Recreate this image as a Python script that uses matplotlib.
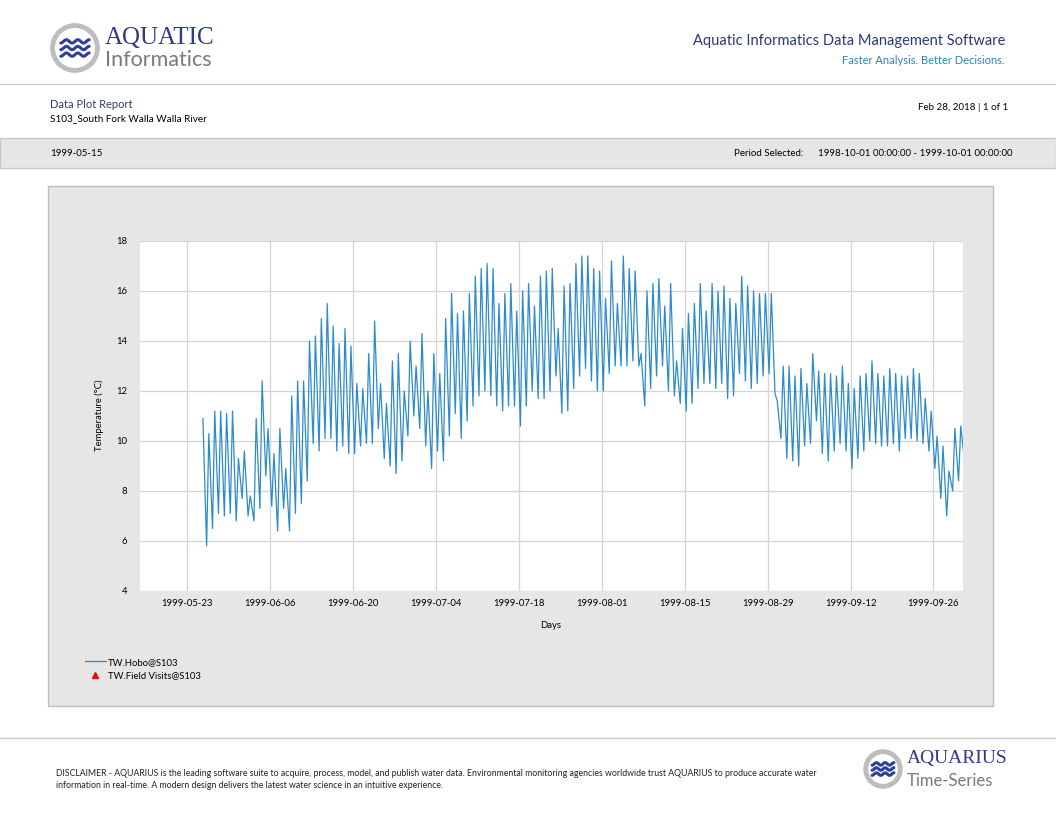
import matplotlib
matplotlib.use("agg")
import matplotlib.pyplot as plt
import matplotlib.dates as mdates
import numpy as np
import pandas as pd
from matplotlib.lines import Line2D
from matplotlib.patches import Rectangle, Circle

W, H = 1056, 816

# daily peak (afternoon) and trough (next morning) water temperatures, deg C
FIRST_PEAK = "1999-05-25 15:00"
DAILY_MAX = [
    10.9, 10.3, 11.2, 11.2, 11.1, 11.2, 9.3, 9.6, 7.8, 10.9, 12.4, 10.5, 9.5, 10.5, 8.9, 11.8, 12.4, 12.4, 14.0, 14.2,
    14.9, 15.5, 14.6, 13.9, 14.5, 13.8, 12.3, 12.1, 13.5, 14.8, 12.3, 11.5, 13.2, 13.5, 12.0, 14.0, 13.0, 14.3, 12.0, 13.5, 12.7, 14.9,
    15.9, 15.1, 15.2, 15.9, 16.6, 16.9, 17.1, 16.9, 15.5, 15.9, 16.3, 15.2, 16.0, 16.3, 15.4, 16.6, 16.8, 16.9, 14.5, 16.2, 16.3, 17.1,
    17.4, 17.4, 16.9, 16.8, 15.7, 17.2, 15.5, 17.4, 16.9, 16.8, 13.5, 16.0, 16.3, 16.5, 15.4, 16.3, 13.2, 14.5, 15.1, 15.5, 16.3, 15.2,
    16.3, 16.0, 16.2, 15.7, 15.5, 16.6, 16.2, 16.0, 15.9, 15.9, 15.9, 11.6, 13.0, 13.0, 12.6, 12.9, 12.3, 13.5, 12.8, 12.7, 12.7, 12.6,
    13.0, 12.3, 12.1, 12.6, 12.7, 13.2, 12.7, 12.6, 12.9, 12.7, 12.6, 12.6, 12.9, 12.7, 11.7, 11.2, 10.2, 9.8, 8.8, 10.5, 10.6,
]
DAILY_MIN = [
    5.8, 6.5, 7.1, 7.0, 7.1, 6.8, 7.7, 7.0, 6.8, 7.3, 8.6, 7.4, 6.4, 7.3, 6.4, 7.1, 7.5, 8.4, 9.9, 9.6,
    10.1, 10.1, 9.6, 9.8, 9.5, 9.5, 9.8, 9.9, 9.9, 10.5, 9.3, 9.0, 8.7, 9.2, 10.2, 11.0, 10.5, 9.8, 8.9, 9.6, 9.2, 10.2,
    11.1, 10.1, 10.8, 11.4, 11.8, 12.0, 11.8, 11.4, 11.2, 11.4, 11.4, 10.6, 11.4, 12.0, 11.7, 11.7, 12.0, 12.6, 11.1, 11.2, 12.1, 12.6,
    12.9, 12.4, 12.0, 12.0, 12.7, 13.0, 13.0, 13.0, 13.2, 13.0, 11.4, 12.1, 12.6, 13.0, 12.0, 11.8, 11.5, 11.2, 11.5, 12.1, 12.3, 12.3,
    12.1, 12.3, 11.7, 11.8, 12.7, 12.4, 12.1, 12.3, 12.6, 12.7, 11.9, 10.1, 9.3, 9.2, 9.0, 9.8, 9.9, 10.8, 9.5, 9.2, 9.6, 9.9,
    9.6, 8.9, 9.3, 9.6, 10.0, 9.9, 9.8, 9.8, 9.9, 9.6, 10.1, 10.1, 10.0, 9.9, 9.6, 8.9, 7.7, 7.0, 8.0, 8.4, 9.2,
]
FIELD_VISIT_DATES = []
FIELD_VISIT_VALUES = []

X_START, X_END = "1999-05-15", "1999-10-01"
X_TICKS = ["1999-05-23", "1999-06-06", "1999-06-20", "1999-07-04", "1999-07-18", "1999-08-01",
           "1999-08-15", "1999-08-29", "1999-09-12", "1999-09-26"]
Y_TICKS = [4, 6, 8, 10, 12, 14, 16, 18]

NAVY = "#283A78"
LINE_BLUE = "#2E8BCB"
GREY_BG = "#E6E6E6"
plt.rcParams["font.family"] = ["Lato", "DejaVu Sans"]


def fx(x):
    return x / W


def fy(y):
    return 1 - y / H


def build_series():
    """Interleave daily peaks and troughs into one time series."""
    peaks = pd.date_range(FIRST_PEAK, periods=len(DAILY_MAX), freq="D")
    troughs = peaks + pd.Timedelta(hours=15)
    times = np.empty(2 * len(peaks), dtype="datetime64[ns]")
    vals = np.empty(2 * len(peaks))
    times[0::2], times[1::2] = peaks.values, troughs.values
    vals[0::2], vals[1::2] = DAILY_MAX, DAILY_MIN
    return pd.Series(vals, index=pd.DatetimeIndex(times))


def draw_logo(fig, cx, cy, r, title, subtitle, title_size, sub_size):
    """Circle badge with waves plus two-line wordmark."""
    lax = fig.add_axes([fx(cx - r - 2), fy(cy + r + 2), (2 * r + 4) / W, (2 * r + 4) / H])
    lax.set_xlim(-1.1, 1.1)
    lax.set_ylim(-1.1, 1.1)
    lax.set_aspect("equal")
    lax.axis("off")
    lax.add_patch(Circle((0, 0), 0.95, fc="white", ec="#BDBDBD", lw=3.5))
    t = np.linspace(-0.6, 0.6, 60)
    for off in (0.28, 0.0, -0.28):
        lax.plot(t, off + 0.07 * np.sin(t * 13), color="#2E3F9A", lw=2.2, solid_capstyle="round")
    fig.text(fx(cx + r + 6), fy(cy - 10), title, family="Liberation Serif", color="#2B3C8F",
             fontsize=title_size, va="center")
    fig.text(fx(cx + r + 6), fy(cy + 12), subtitle, color="#7A7A7A", fontsize=sub_size, va="center")


fig = plt.figure(figsize=(W / 100, H / 100), dpi=100)

# page header
draw_logo(fig, 75, 48, 24, "AQUATIC", "Informatics", 18, 15.5)
fig.text(fx(1005), fy(41), "Aquatic Informatics Data Management Software", ha="right", va="center",
         color=NAVY, fontsize=10.5)
fig.text(fx(1005), fy(60), "Faster Analysis. Better Decisions.", ha="right", va="center",
         color="#2A86B8", fontsize=8)
fig.add_artist(Line2D([0, 1], [fy(84)] * 2, color="#C8C8C8", lw=1))
fig.text(fx(50), fy(104), "Data Plot Report", color=NAVY, fontsize=8, va="center")
fig.text(fx(50), fy(119), "S103_South Fork Walla Walla River", color="black", fontsize=7.2, va="center")
fig.text(fx(1008), fy(107), "Feb 28, 2018 | 1 of 1", color="black", fontsize=7, va="center", ha="right")

fig.add_artist(Rectangle((0, fy(168)), 1, 30 / H, transform=fig.transFigure, fc=GREY_BG,
                         ec="#C8C8C8", lw=1, zorder=-2))
fig.text(fx(50), fy(153), "1999-05-15", fontsize=7, va="center")
fig.text(fx(803), fy(153), "Period Selected:", fontsize=7, va="center", ha="right")
fig.text(fx(818), fy(153), "1998-10-01 00:00:00 - 1999-10-01 00:00:00", fontsize=7, va="center")

# chart panel
fig.add_artist(Rectangle((fx(48), fy(706)), 945 / W, 520 / H, transform=fig.transFigure,
                         fc=GREY_BG, ec="#BDBDBD", lw=1, zorder=-2))

ax = fig.add_axes([fx(140), fy(591), 823 / W, 350 / H])
ax.set_facecolor("white")
series = build_series()
hobo, = ax.plot(series.index, series.values, color=LINE_BLUE, lw=0.9, label="TW.Hobo@S103")
visits, = ax.plot(pd.to_datetime(FIELD_VISIT_DATES), FIELD_VISIT_VALUES, ls="none", marker="^",
                  color="#E01010", ms=4, label="TW.Field Visits@S103")
ax.set_xlim(pd.Timestamp(X_START), pd.Timestamp(X_END))
ax.set_ylim(Y_TICKS[0], Y_TICKS[-1])
ax.set_yticks(Y_TICKS)
ax.set_xticks(pd.to_datetime(X_TICKS))
ax.xaxis.set_major_formatter(mdates.DateFormatter("%Y-%m-%d"))
ax.grid(True, color="#D4D4D4", lw=0.9)
ax.set_axisbelow(True)
for sp in ax.spines.values():
    sp.set_visible(False)
ax.tick_params(axis="both", length=0, labelsize=6.8)
ax.tick_params(axis="y", pad=9)
ax.tick_params(axis="x", pad=6)

fig.text(fx(99), fy(415), "Temperature (°C)", rotation=90, ha="center", va="center", fontsize=6.8)
fig.text(fx(551), fy(625), "Days", ha="center", va="center", fontsize=6.8)

fig.legend(handles=[hobo, visits], loc="upper left", bbox_to_anchor=(fx(81), fy(654)),
           frameon=False, fontsize=6.8, handlelength=2.2, handletextpad=0.25, labelspacing=0.5,
           borderaxespad=0)

# footer
fig.add_artist(Line2D([0, 1], [fy(738)] * 2, color="#C8C8C8", lw=1))
fig.text(fx(56), fy(773),
         "DISCLAIMER - AQUARIUS is the leading software suite to acquire, process, model, and publish water data. "
         "Environmental monitoring agencies worldwide trust AQUARIUS to produce accurate water",
         fontsize=6.3, va="center", color="#222222")
fig.text(fx(56), fy(785),
         "information in real-time. A modern design delivers the latest water science in an intuitive experience.",
         fontsize=6.3, va="center", color="#222222")
draw_logo(fig, 883, 769, 18, "AQUARIUS", "Time-Series", 14, 12)

fig.savefig("out.png", dpi=100)
